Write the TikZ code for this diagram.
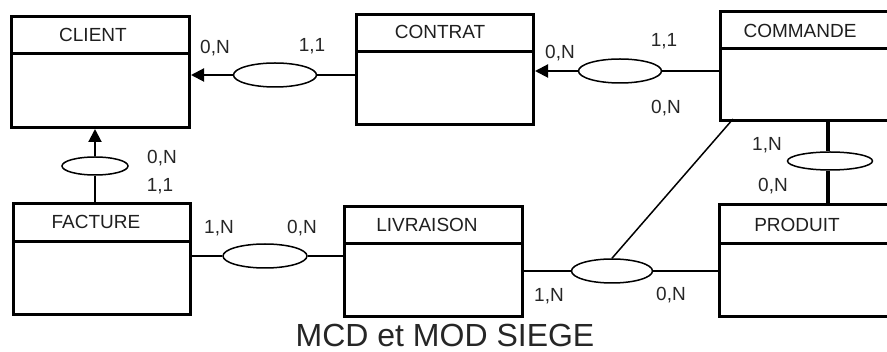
\documentclass[tikz,border=0pt]{standalone}
\usepackage{fontspec}
\setmainfont{Liberation Sans}
\usetikzlibrary{arrows.meta,shapes.geometric}
\tikzset{
  entity/.style={draw, line width=3pt, rectangle, anchor=north west, inner sep=0pt},
  divider/.style={line width=3pt},
  etitle/.style={font=\fontsize{19}{19}\selectfont, text=black!88, inner sep=0pt, text height=13.6pt, text depth=0pt},
  rel/.style={draw, ellipse, line width=1.5pt, inner sep=0pt, fill=white},
  link/.style={line width=2pt},
  card/.style={font=\fontsize{19}{19}\selectfont, text=black!85, inner sep=0pt, text height=13.6pt, text depth=0pt},
  arr/.style={-{Triangle[length=13pt,width=13pt]}, line width=2pt},
}
\begin{document}
\begin{tikzpicture}[x=1pt,y=-1pt]
\useasboundingbox (0,0) rectangle (887,352);
% entities
\node[entity, minimum width=178pt, minimum height=111pt] (client) at (10,15) {};
\draw[divider] (10,54) -- (188,54);
\node[etitle] (clientT) at (93,35) {CLIENT};

\node[entity, minimum width=177pt, minimum height=110pt] (contrat) at (355,13) {};
\draw[divider] (355,52) -- (532,52);
\node[etitle] (contratT) at (440,32) {CONTRAT};

\begin{scope}
\clip (0,0) rectangle (887,352);
\node[entity, minimum width=240pt, minimum height=109pt] (commande) at (719,10) {};
\draw[divider] (719,49) -- (960,49);
\node[entity, minimum width=240pt, minimum height=112pt] (produit) at (718,203) {};
\draw[divider] (718,244) -- (960,244);
\end{scope}
\node[etitle] (commandeT) at (800,31) {COMMANDE};
\node[etitle] (produitT) at (797,225) {PRODUIT};

\node[entity, minimum width=177pt, minimum height=111pt] (facture) at (12,202) {};
\draw[divider] (12,242) -- (189,242);
\node[etitle] (factureT) at (96,222) {FACTURE};

\node[entity, minimum width=178pt, minimum height=110pt] (livraison) at (343,205) {};
\draw[divider] (343,244) -- (521,244);
\node[etitle] (livraisonT) at (427,225) {LIVRAISON};

% relations
\node[rel, minimum width=83pt, minimum height=24pt] (r1) at (275,75) {};
\node[rel, minimum width=83pt, minimum height=24pt] (r2) at (620,71) {};
\node[rel, minimum width=85pt, minimum height=18pt] (r3) at (830,161) {};
\node[rel, minimum width=66pt, minimum height=18pt] (r4) at (95,166) {};
\node[rel, minimum width=84pt, minimum height=24pt] (r5) at (265,256) {};
\node[rel, minimum width=81pt, minimum height=24pt] (r6) at (612,271) {};

% connectors
\draw[arr] (r1.west) -- (r1.west -| client.east);
\draw[link] (r1.east) -- (r1.east -| contrat.west);
\draw[arr] (r2.west) -- (r2.west -| contrat.east);
\draw[link] (r2.east) -- (r2.east -| commande.west);
\draw[line width=4pt] (r3.north -| 828,0) -- (828,119);
\draw[line width=4pt] (r3.south -| 828,0) -- (828,203);
\draw[arr] (r4.north) -- (r4.north |- client.south);
\draw[link] (r4.south) -- (r4.south |- facture.north);
\draw[link] (r5.west) -- (r5.west -| facture.east);
\draw[link] (r5.east) -- (r5.east -| livraison.west);
\draw[link] (r6.west) -- (r6.west -| livraison.east);
\draw[link] (r6.east) -- (r6.east -| produit.west);
\coordinate (cmdfoot) at (733,119);
\draw[line width=1.5pt] (cmdfoot) -- (r6.north);

% cardinalities
\node[card] (c1) at (215,47) {0,N};
\node[card] (c2) at (312,45) {1,1};
\node[card] (c3) at (560,52) {0,N};
\node[card] (c4) at (664,40) {1,1};
\node[card] (c5) at (666,107) {0,N};
\node[card] (c6) at (767,144) {1,N};
\node[card] (c7) at (773,185) {0,N};
\node[card] (c8) at (162,157) {0,N};
\node[card] (c9) at (160,185) {1,1};
\node[card] (c10) at (219,227) {1,N};
\node[card] (c11) at (302,227) {0,N};
\node[card] (c12) at (549,295) {1,N};
\node[card] (c13) at (671,294) {0,N};

% title
\node[font=\fontsize{32}{32}\selectfont, text=black!85, inner sep=0pt, text height=23pt, text depth=0pt] (title) at (445,335) {MCD et MOD SIEGE};
\end{tikzpicture}
\end{document}
